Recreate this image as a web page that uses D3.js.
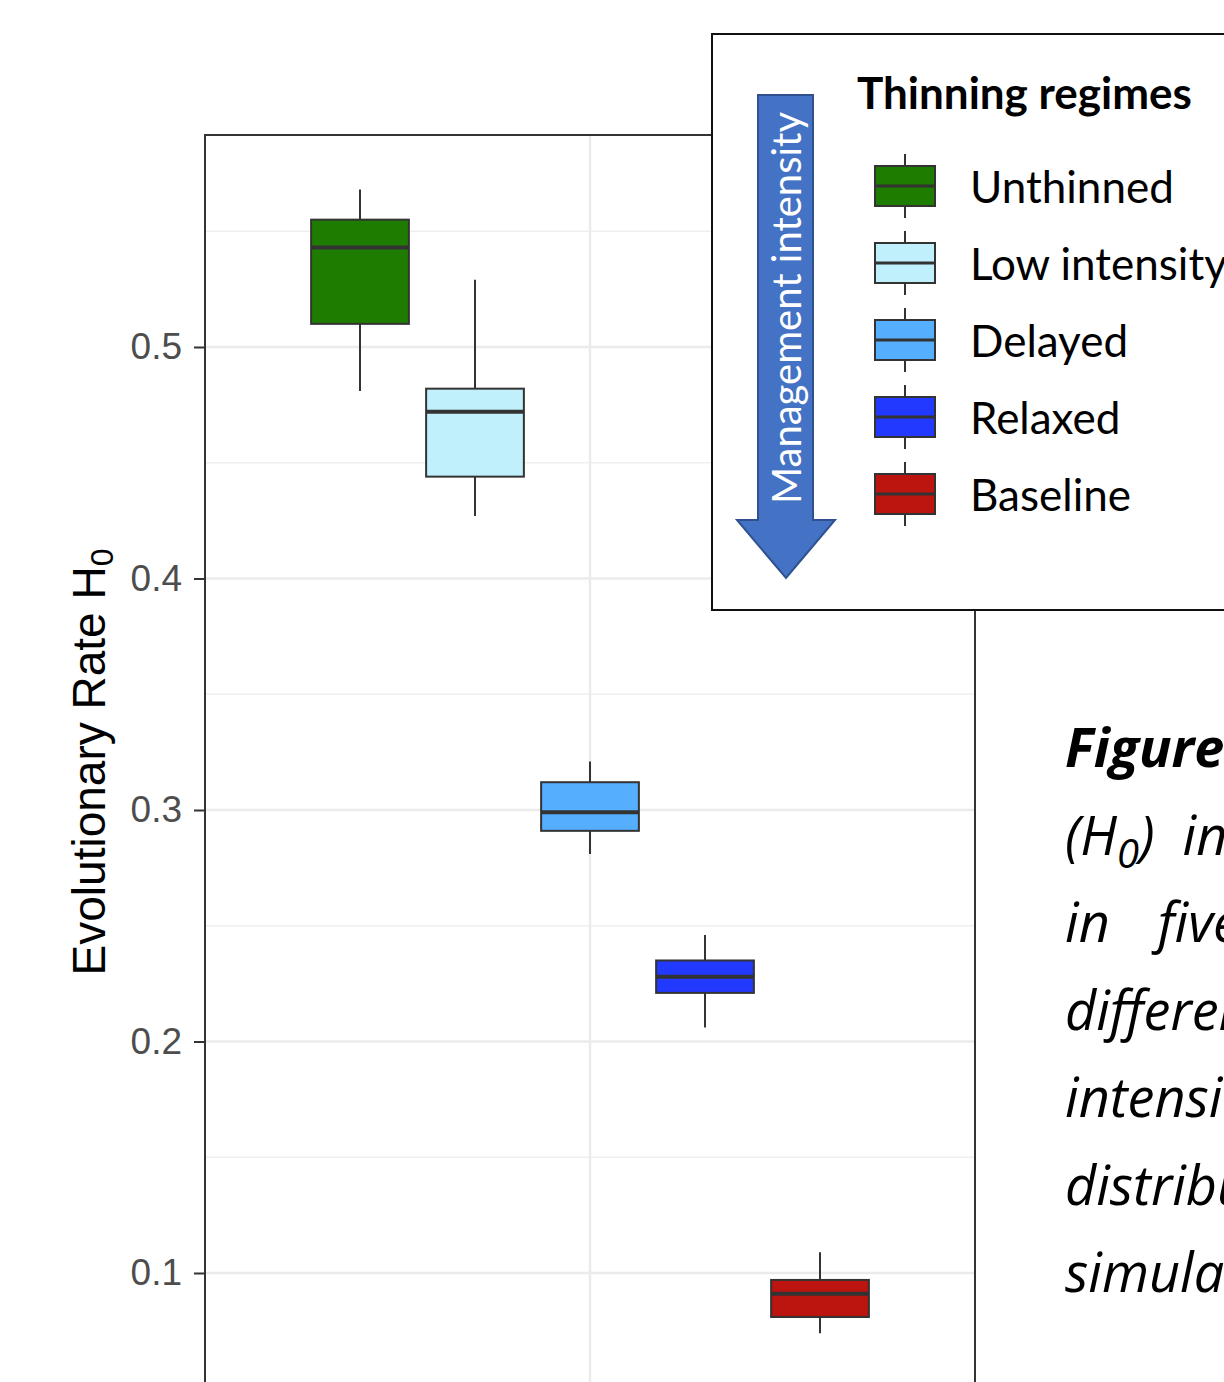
<!DOCTYPE html>
<html>
<head>
<meta charset="utf-8">
<script src="https://cdn.jsdelivr.net/npm/d3@7"></script>
<style>
  body { margin: 0; background: #fff; }
  svg { display: block; }
</style>
</head>
<body>
<svg id="chart" width="1224" height="1382"></svg>
<script>
// data
const regimes = ["Unthinned", "Low intensity", "Delayed", "Relaxed", "Baseline"];
const colors = ["#1e7d00", "#bff0fb", "#56aeff", "#2239ff", "#bc140f"];
const whiskerLow = [0.481, 0.427, 0.281, 0.206, 0.074];
const q1 = [0.510, 0.444, 0.291, 0.221, 0.081];
const median = [0.543, 0.472, 0.299, 0.228, 0.091];
const q3 = [0.555, 0.482, 0.312, 0.235, 0.097];
const whiskerHigh = [0.568, 0.529, 0.321, 0.246, 0.109];
const yTicks = [0.1, 0.2, 0.3, 0.4, 0.5];
const yMinor = [0.15, 0.25, 0.35, 0.45, 0.55];
const captionLines = ["Figure 4.", "(H", "in five thinning", "different management", "intensity regimes;", "distribution of", "simulations"];

const svg = d3.select("#chart");

const panel = {left: 205, right: 975, top: 135, bottom: 1400};
const y = d3.scaleLinear().domain([0.1, 0.5]).range([1273, 347]);
const x = d3.scaleBand().domain(regimes).range([302.5, 877.5]);
const boxW = x.bandwidth() * 0.85;

const data = regimes.map((r, i) => ({
  name: r, color: colors[i], lo: whiskerLow[i], q1: q1[i], med: median[i], q3: q3[i], hi: whiskerHigh[i]
}));

// grid
const grid = svg.append("g");
grid.selectAll(".minor").data(yMinor).enter().append("line")
  .attr("x1", panel.left).attr("x2", panel.right)
  .attr("y1", d => y(d)).attr("y2", d => y(d))
  .attr("stroke", "#efefef").attr("stroke-width", 1.5);
grid.selectAll(".major").data(yTicks).enter().append("line")
  .attr("x1", panel.left).attr("x2", panel.right)
  .attr("y1", d => y(d)).attr("y2", d => y(d))
  .attr("stroke", "#ebebeb").attr("stroke-width", 2.5);
grid.append("line")
  .attr("x1", 590).attr("x2", 590).attr("y1", panel.top).attr("y2", panel.bottom)
  .attr("stroke", "#ebebeb").attr("stroke-width", 2.5);

// boxes
const boxes = svg.append("g").selectAll("g").data(data).enter().append("g")
  .attr("transform", d => `translate(${x(d.name) + x.bandwidth() / 2},0)`);
boxes.append("line")
  .attr("y1", d => y(d.hi)).attr("y2", d => y(d.lo))
  .attr("stroke", "#333").attr("stroke-width", 2);
boxes.append("rect")
  .attr("x", -boxW / 2).attr("width", boxW)
  .attr("y", d => y(d.q3)).attr("height", d => y(d.q1) - y(d.q3))
  .attr("fill", d => d.color).attr("stroke", "#333").attr("stroke-width", 2);
boxes.append("line")
  .attr("x1", -boxW / 2).attr("x2", boxW / 2)
  .attr("y1", d => y(d.med)).attr("y2", d => y(d.med))
  .attr("stroke", "#333").attr("stroke-width", 4);

// panel border
svg.append("rect")
  .attr("x", panel.left).attr("y", panel.top)
  .attr("width", panel.right - panel.left).attr("height", panel.bottom - panel.top)
  .attr("fill", "none").attr("stroke", "#333").attr("stroke-width", 2);

// y axis
const yAxis = svg.append("g")
  .attr("transform", `translate(${panel.left},0)`)
  .call(d3.axisLeft(y).tickValues(yTicks).tickSize(11).tickPadding(12).tickFormat(d3.format(".1f")));
yAxis.select(".domain").remove();
yAxis.selectAll(".tick line").attr("stroke", "#333").attr("stroke-width", 2);
yAxis.selectAll(".tick text")
  .attr("fill", "#4d4d4d").attr("font-family", "Liberation Sans, Arial, sans-serif").attr("font-size", 37);

const ylab = svg.append("text")
  .attr("transform", "translate(105,762) rotate(-90)")
  .attr("text-anchor", "middle")
  .attr("font-family", "Liberation Sans, Arial, sans-serif").attr("font-size", 46).attr("fill", "#000");
ylab.append("tspan").text("Evolutionary Rate H");
ylab.append("tspan").attr("font-size", 32).attr("dy", 8).text("0");

// legend box
svg.append("rect")
  .attr("x", 712).attr("y", 34).attr("width", 600).attr("height", 576)
  .attr("fill", "#fff").attr("stroke", "#111").attr("stroke-width", 2);

// arrow
svg.append("path")
  .attr("d", "M758,95 L813,95 L813,520 L835,520 L786,578 L737,520 L758,520 Z")
  .attr("fill", "#4472c4").attr("stroke", "#2f528f").attr("stroke-width", 2);
svg.append("text")
  .attr("transform", "translate(801,308) rotate(-90)")
  .attr("text-anchor", "middle")
  .attr("font-family", "Lato, 'Open Sans', sans-serif").attr("font-size", 40).attr("fill", "#fff")
  .text("Management intensity");

svg.append("text")
  .attr("x", 857).attr("y", 109)
  .attr("font-family", "Lato, 'Open Sans', sans-serif").attr("font-weight", "bold").attr("font-size", 44)
  .text("Thinning regimes");

const ly = d3.scalePoint().domain(regimes).range([186, 494]);
const keys = svg.append("g").selectAll("g").data(data).enter().append("g")
  .attr("transform", d => `translate(905,${ly(d.name)})`);
keys.append("line").attr("y1", -32).attr("y2", 32).attr("stroke", "#333").attr("stroke-width", 2);
keys.append("rect").attr("x", -30).attr("y", -20).attr("width", 60).attr("height", 40)
  .attr("fill", d => d.color).attr("stroke", "#333").attr("stroke-width", 2);
keys.append("line").attr("x1", -30).attr("x2", 30).attr("stroke", "#333").attr("stroke-width", 3);
keys.append("text")
  .attr("x", 65).attr("y", 17)
  .attr("font-family", "Lato, 'Open Sans', sans-serif").attr("font-size", 44).attr("fill", "#000")
  .text(d => d.name);

// caption (runs off the right edge, as in the source)
const cap = svg.append("g")
  .attr("font-family", "'Open Sans', Lato, sans-serif").attr("font-style", "italic").attr("font-size", 54);
captionLines.forEach((t, i) => {
  const tx = cap.append("text").attr("x", 1065).attr("y", 767 + i * 87.5);
  if (i === 0) tx.attr("font-weight", "bold").text(t);
  else if (i === 1) {
    tx.append("tspan").text("(H");
    tx.append("tspan").attr("font-size", 40).attr("dy", 13).text("0");
    tx.append("tspan").attr("dy", -13).attr("word-spacing", 14).text(") in Scots pine");
  } else if (i === 2) tx.attr("word-spacing", 34).text(t);
  else tx.text(t);
});
</script>
</body>
</html>
